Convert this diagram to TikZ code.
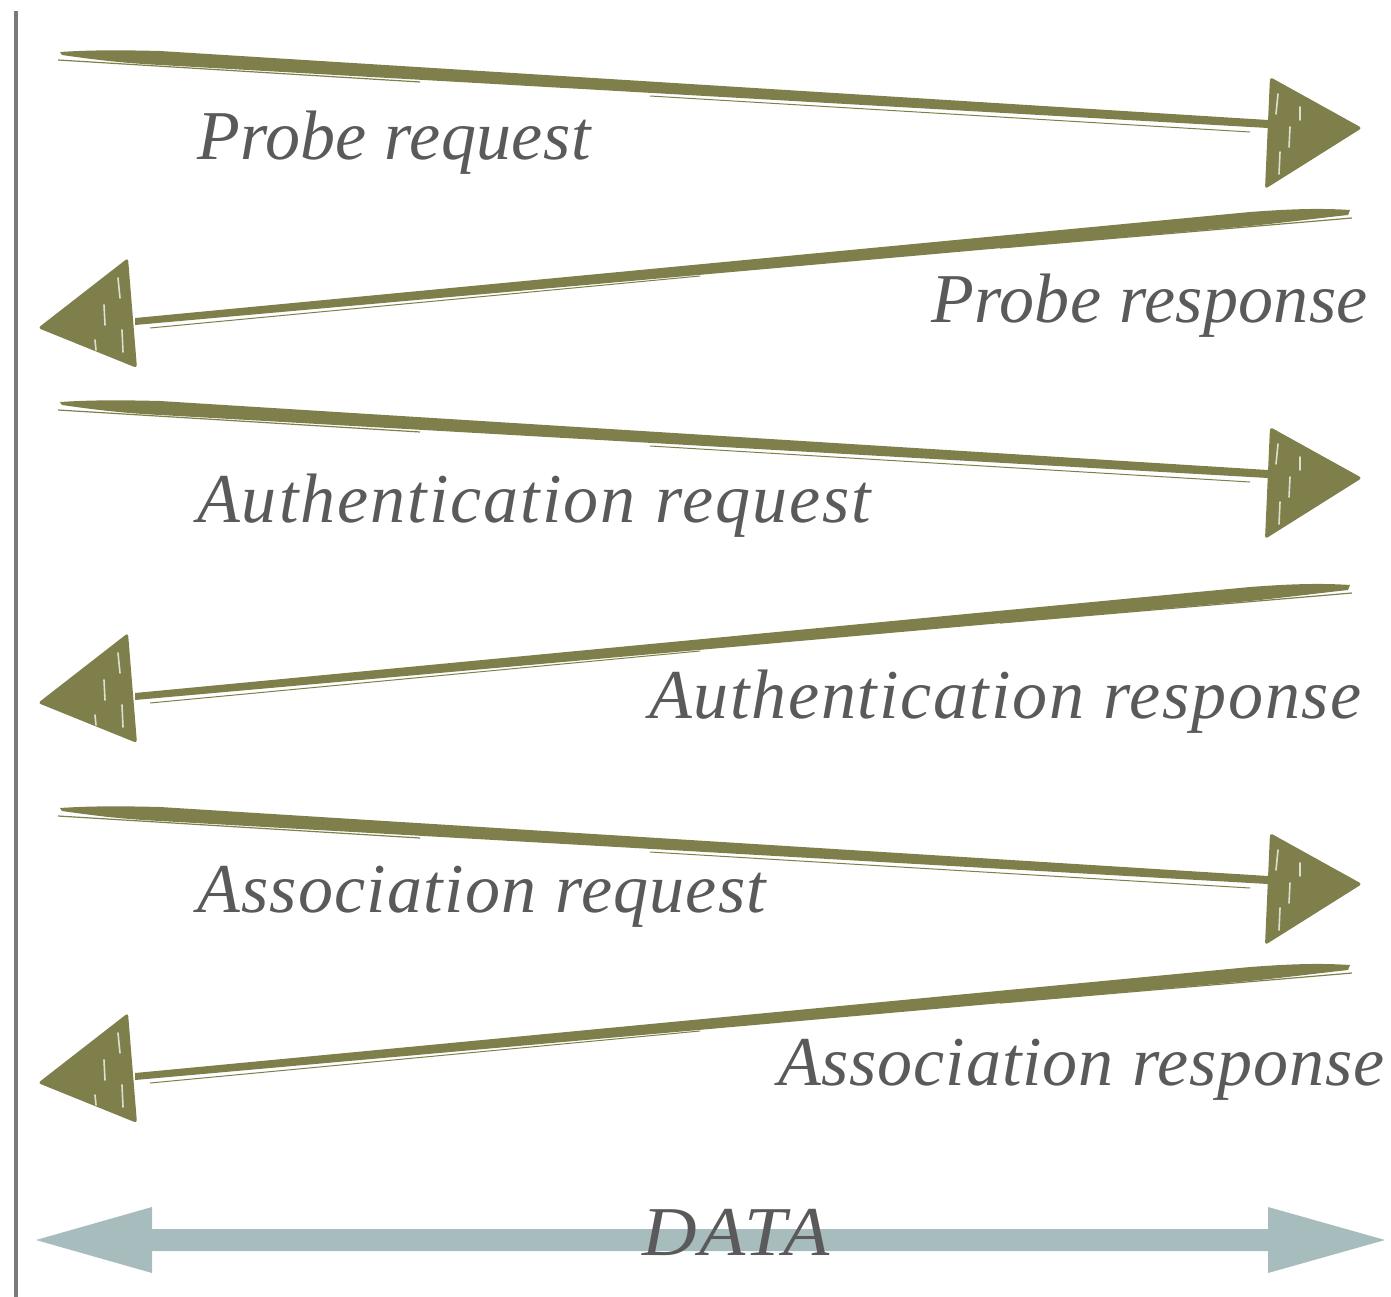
\documentclass[tikz,border=0pt]{standalone}
\usepackage{fontspec}
\setmainfont{Liberation Serif}
\definecolor{olv}{HTML}{7E7F4A}
\definecolor{dataclr}{HTML}{A7BCBD}
\definecolor{txt}{HTML}{5A5A5A}
\definecolor{rulec}{HTML}{7A7A7A}
\newcommand\trk[1]{\addfontfeatures{LetterSpace=#1}}
\tikzset{
  lbl/.style={inner sep=0pt, text=txt, font=\fontsize{70}{80}\selectfont\itshape},
  streak/.style={white, line width=1.6pt, opacity=0.75, line cap=round},
  rarrow/.pic={
    \fill[olv] (60,0) .. controls (90,-2) and (120,-2) .. (160,-1) -- (1268,68) -- (1268,76) -- (160,13) .. controls (120,11) and (90,7) .. (62,3) -- cycle;
    \draw[olv, line width=1.2pt] (58,8) -- (420,30);
    \draw[olv, line width=1pt] (650,44) -- (1250,80);
    \coordinate (-tip) at (1362,76);
    \fill[olv, rounded corners=3pt] (1270,25) -- (-tip) -- (1265,137) -- cycle;
    \draw[streak] (1278,42) -- (1276,62);
    \draw[streak] (1290,75) -- (1289,95);
    \draw[streak] (1280,100) -- (1279,122);
    \draw[streak] (1300,55) -- (1300,68);
  },
  larrow/.pic={
    \fill[olv] (1350,0) .. controls (1320,-2) and (1290,-1) .. (1250,2) -- (135,108) -- (135,115) -- (1250,16) .. controls (1290,12) and (1320,8) .. (1348,5) -- cycle;
    \draw[olv, line width=1.2pt] (1352,8) -- (1000,38);
    \draw[olv, line width=1pt] (700,66) -- (150,118);
    \coordinate (-tip) at (38,118);
    \fill[olv, rounded corners=3pt] (128,48) -- (-tip) -- (137,158) -- cycle;
    \draw[streak] (118,68) -- (120,88);
    \draw[streak] (104,95) -- (105,115);
    \draw[streak] (122,120) -- (123,142);
    \draw[streak] (95,130) -- (96,140);
  }
}
\begin{document}
\begin{tikzpicture}[x=1pt,y=-1pt]
  \useasboundingbox (0,0) rectangle (1391,1297);
  \coordinate (vtop) at (16,11);
  \coordinate (vbot) at (16,1297);
  \draw[rulec, line width=4pt] (vtop) -- (vbot);

  \pic (a1) at (0,52) {rarrow};
  \pic (a2) at (0,210) {larrow};
  \pic (a3) at (0,402) {rarrow};
  \pic (a4) at (0,585) {larrow};
  \pic (a5) at (0,808) {rarrow};
  \pic (a6) at (0,965) {larrow};

  \node[lbl, anchor=base west] (l1) at (197,160) {\trk{0.5}Probe request};
  \node[lbl, anchor=base east] (l2) at (1368,322) {\trk{0.5}Probe response};
  \node[lbl, anchor=base west] (l3) at (197,522) {\trk{2.9}Authentication request};
  \node[lbl, anchor=base east] (l4) at (1362,718) {\trk{2.5}Authentication response};
  \node[lbl, anchor=base west] (l5) at (197,912) {\trk{1.8}Association request};
  \node[lbl, anchor=base east] (l6) at (1385,1085) {\trk{1.3}Association response};

  \coordinate (dl) at (36,1240);
  \coordinate (dr) at (1385,1240);
  \fill[dataclr] (dl) -- (152,1207) -- (152,1229) -- (1268,1229) -- (1268,1207) -- (dr)
     -- (1268,1273) -- (1268,1251) -- (152,1251) -- (152,1273) -- cycle;
  \node[lbl, anchor=base west, xscale=1.08] (data) at (642,1255) {\trk{3}DATA};
\end{tikzpicture}
\end{document}
